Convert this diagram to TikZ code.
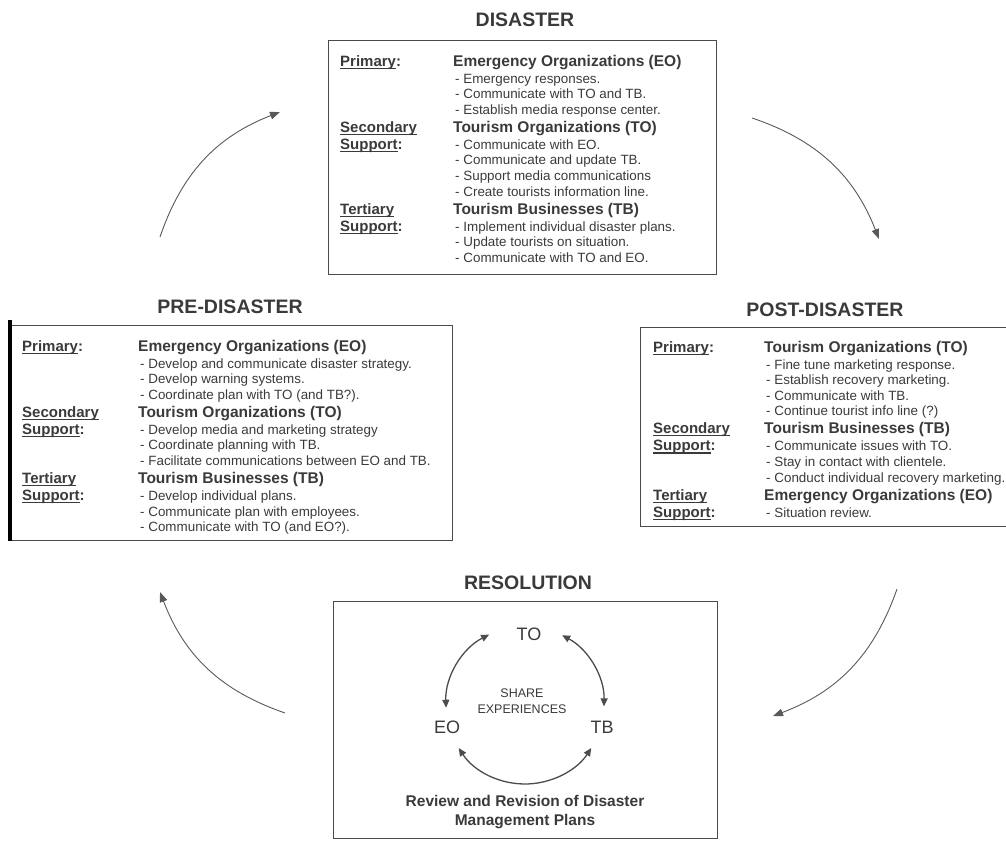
\documentclass[tikz,border=0pt]{standalone}
\usepackage{fontspec}
\setmainfont{Liberation Sans}
\usetikzlibrary{arrows.meta,positioning}

\definecolor{ink}{HTML}{3A3A3A}
\definecolor{rim}{HTML}{4A4A4A}

% underlined role labels, bold group headings, bullet lines
\newlength\labw
\newcommand{\ulab}[1]{\leavevmode\setbox0\hbox{#1}\rlap{\rule[-2.6pt]{\wd0}{1.1pt}}\box0}
\newcommand{\lab}[1]{\makebox[\labw][l]{\fontsize{15}{15}\selectfont\bfseries\ulab{#1}}}
\newcommand{\labc}[1]{\makebox[\labw][l]{\fontsize{15}{15}\selectfont\bfseries\ulab{#1}:}}
\newcommand{\grp}[1]{{\fontsize{15.5}{15.5}\selectfont\bfseries #1}}
\newcommand{\itm}[1]{\hspace*{2pt}- #1}

\tikzset{
  phase/.style={font=\fontsize{19.5}{20}\selectfont\bfseries, text=ink, inner sep=0pt},
  panel/.style={draw=rim, line width=1.3pt, inner sep=0pt, anchor=north west},
  roles/.style={anchor=north west, inner sep=0pt, text=ink, font=\fontsize{13.4}{15.6}\selectfont},
  cycle/.style={draw=black!65, line width=0.9pt, -{Triangle[length=10pt,width=7.5pt]}},
  ring/.style={draw=black!70, line width=1.3pt, {Triangle[length=8pt,width=7pt]}-{Triangle[length=8pt,width=7pt]}},
  party/.style={font=\fontsize{18}{18}\selectfont, text=ink, inner sep=0pt},
}

\begin{document}
\begin{tikzpicture}[x=1pt,y=1pt]
\useasboundingbox (0,0) rectangle (1006,841);

% DISASTER
\node[phase] (disT) at (525,821) {DISASTER};
\node[panel, minimum width=388pt, minimum height=234pt] (dis) at (328,801) {};
\node[roles] (disTxt) at (340,786.4) {\setlength\labw{113pt}\begin{tabular}{@{}l@{}l@{}}
\labc{Primary} & \grp{Emergency Organizations (EO)}\\[1.5pt]
 & \itm{Emergency responses.}\\
 & \itm{Communicate with TO and TB.}\\
 & \itm{Establish media response center.}\\[2pt]
\lab{Secondary} & \grp{Tourism Organizations (TO)}\\[1.5pt]
\labc{Support} & \itm{Communicate with EO.}\\
 & \itm{Communicate and update TB.}\\
 & \itm{Support media communications}\\
 & \itm{Create tourists information line.}\\[2pt]
\lab{Tertiary} & \grp{Tourism Businesses (TB)}\\[1.5pt]
\labc{Support} & \itm{Implement individual disaster plans.}\\
 & \itm{Update tourists on situation.}\\
 & \itm{Communicate with TO and EO.}
\end{tabular}};

% PRE-DISASTER
\node[phase] (preT) at (230,534) {PRE-DISASTER};
\node[panel, minimum width=442pt, minimum height=215pt] (pre) at (10,516) {};
\draw[line width=3.5pt, black] ([yshift=5pt]pre.north west) -- (pre.south west);
\node[roles] (preTxt) at (22,501.4) {\setlength\labw{116pt}\begin{tabular}{@{}l@{}l@{}}
\labc{Primary} & \grp{Emergency Organizations (EO)}\\[1.5pt]
 & \itm{Develop and communicate disaster strategy.}\\
 & \itm{Develop warning systems.}\\
 & \itm{Coordinate plan with TO (and TB?).}\\[2pt]
\lab{Secondary} & \grp{Tourism Organizations (TO)}\\[1.5pt]
\labc{Support} & \itm{Develop media and marketing strategy}\\
 & \itm{Coordinate planning with TB.}\\
 & \itm{Facilitate communications between EO and TB.}\\[2pt]
\lab{Tertiary} & \grp{Tourism Businesses (TB)}\\[1.5pt]
\labc{Support} & \itm{Develop individual plans.}\\
 & \itm{Communicate plan with employees.}\\
 & \itm{Communicate with TO (and EO?).}
\end{tabular}};

% POST-DISASTER
\node[phase] (postT) at (825,531) {POST-DISASTER};
\node[panel, minimum width=380pt, minimum height=199pt] (post) at (640,514) {};
\node[roles] (postTxt) at (653,500.4) {\setlength\labw{111pt}\begin{tabular}{@{}l@{}l@{}}
\labc{Primary} & \grp{Tourism Organizations (TO)}\\[1.5pt]
 & \itm{Fine tune marketing response.}\\
 & \itm{Establish recovery marketing.}\\
 & \itm{Communicate with TB.}\\
 & \itm{Continue tourist info line (?)}\\[2pt]
\lab{Secondary} & \grp{Tourism Businesses (TB)}\\[1.5pt]
\labc{Support} & \itm{Communicate issues with TO.}\\
 & \itm{Stay in contact with clientele.}\\
 & \itm{Conduct individual recovery marketing.}\\[2pt]
\lab{Tertiary} & \grp{Emergency Organizations (EO)}\\[1.5pt]
\labc{Support} & \itm{Situation review.}
\end{tabular}};

% RESOLUTION
\node[phase] (resT) at (528,258) {RESOLUTION};
\node[panel, minimum width=384pt, minimum height=237pt] (res) at (333,240) {};
\node[party] (to) at (529,207) {TO};
\node[party] (eo) at (447,114) {EO};
\node[party] (tb) at (602,114) {TB};
\node[text=ink, align=center, font=\fontsize{12.5}{16}\selectfont] (share) at (522,140) {SHARE\\EXPERIENCES};
\node[text=ink, align=center, font=\fontsize{15.5}{19}\selectfont\bfseries] (review) at (525,29) {Review and Revision of Disaster\\Management Plans};
\coordinate (hub) at (525,136);
\draw[ring] ([shift={(117:79)}]hub) arc[start angle=117, end angle=182, radius=79];
\draw[ring] ([shift={(62:79)}]hub) arc[start angle=62, end angle=-1, radius=79];
\draw[ring] ([shift={(213:79)}]hub) arc[start angle=213, end angle=327, radius=79];

% cycle arrows between the phases
\coordinate (ulA) at (160,604);
\coordinate (ulB) at (280,729);
\coordinate (urA) at (752,723);
\coordinate (urB) at (879,602);
\coordinate (lrA) at (897,252);
\coordinate (lrB) at (773,125);
\coordinate (llA) at (285,128);
\coordinate (llB) at (160,249);
\draw[cycle] (ulA) to[bend left=25] (ulB);
\draw[cycle] (urA) to[bend left=25] (urB);
\draw[cycle] (lrA) to[bend left=25] (lrB);
\draw[cycle] (llA) to[bend left=25] (llB);
\end{tikzpicture}
\end{document}
